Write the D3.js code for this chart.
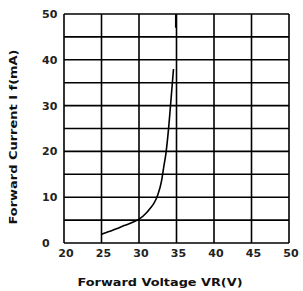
<!DOCTYPE html>
<html><head><meta charset="utf-8">
<script src="https://cdn.jsdelivr.net/npm/d3@7"></script>
<style>body{margin:0;background:#fff}svg{display:block}</style>
</head><body>
<script>
const xTicks = [20, 25, 30, 35, 40, 45, 50];
const yTicks = [0, 10, 20, 30, 40, 50];
const yGrid = [0, 5, 10, 15, 20, 25, 30, 35, 40, 45, 50];
const voltage = [25.0, 26.0, 27.0, 28.0, 29.0, 30.0, 31.0, 31.5, 32.0, 32.5, 33.0, 33.3, 33.6, 34.0, 34.3, 34.6, 34.7, 34.9, 34.9];
const current = [1.9, 2.5, 3.1, 3.8, 4.4, 5.2, 6.6, 7.6, 8.7, 10.5, 13.5, 16.6, 19.7, 26.0, 32.0, 38.0, null, 47.0, 50.0];
const xTitle = "Forward Voltage VR(V)";
const yTitle = "Forward Current I f(mA)";

const W = 303, H = 291;
const L = 64, R = 289, T = 14, B = 243;
const svg = d3.select("body").append("svg").attr("width", W).attr("height", H);
const x = d3.scaleLinear().domain([20, 50]).range([L, R]);
const y = d3.scaleLinear().domain([0, 50]).range([B, T]);

const g = svg.append("g");
g.selectAll("line.v").data(xTicks).enter().append("line")
  .attr("x1", d => x(d)).attr("x2", d => x(d)).attr("y1", T).attr("y2", B)
  .attr("stroke", "#000").attr("stroke-width", 1.6);
g.selectAll("line.h").data(yGrid).enter().append("line")
  .attr("y1", d => y(d)).attr("y2", d => y(d)).attr("x1", L).attr("x2", R)
  .attr("stroke", "#000").attr("stroke-width", 1.6);

const pts = voltage.map((v, i) => [v, current[i]]);
const line = d3.line().defined(d => d[1] !== null).x(d => x(d[0])).y(d => y(d[1])).curve(d3.curveMonotoneX);
svg.append("path").attr("d", line(pts)).attr("fill", "none").attr("stroke", "#000").attr("stroke-width", 1.6);

const font = "'DejaVu Sans', sans-serif";
svg.selectAll("text.xt").data(xTicks).enter().append("text")
  .attr("x", d => x(d) + 2).attr("y", 257).attr("text-anchor", "middle")
  .attr("font-family", font).attr("font-weight", "bold").attr("font-size", 11).attr("fill", "#222")
  .text(d => d);
svg.selectAll("text.yt").data(yTicks).enter().append("text")
  .attr("x", 42).attr("y", d => y(d) + 4).attr("text-anchor", "start")
  .attr("font-family", font).attr("font-weight", "bold").attr("font-size", 11).attr("fill", "#222")
  .text(d => d);
svg.append("text").attr("x", 160).attr("y", 286).attr("text-anchor", "middle")
  .attr("font-family", font).attr("font-weight", "bold").attr("font-size", 11).attr("fill", "#111")
  .attr("textLength", 165).attr("lengthAdjust", "spacingAndGlyphs")
  .text(xTitle);
svg.append("text").attr("transform", "translate(17,137) rotate(-90)").attr("text-anchor", "middle")
  .attr("font-family", font).attr("font-weight", "bold").attr("font-size", 11).attr("fill", "#111")
  .attr("textLength", 175).attr("lengthAdjust", "spacingAndGlyphs")
  .text(yTitle);
</script>
</body></html>
